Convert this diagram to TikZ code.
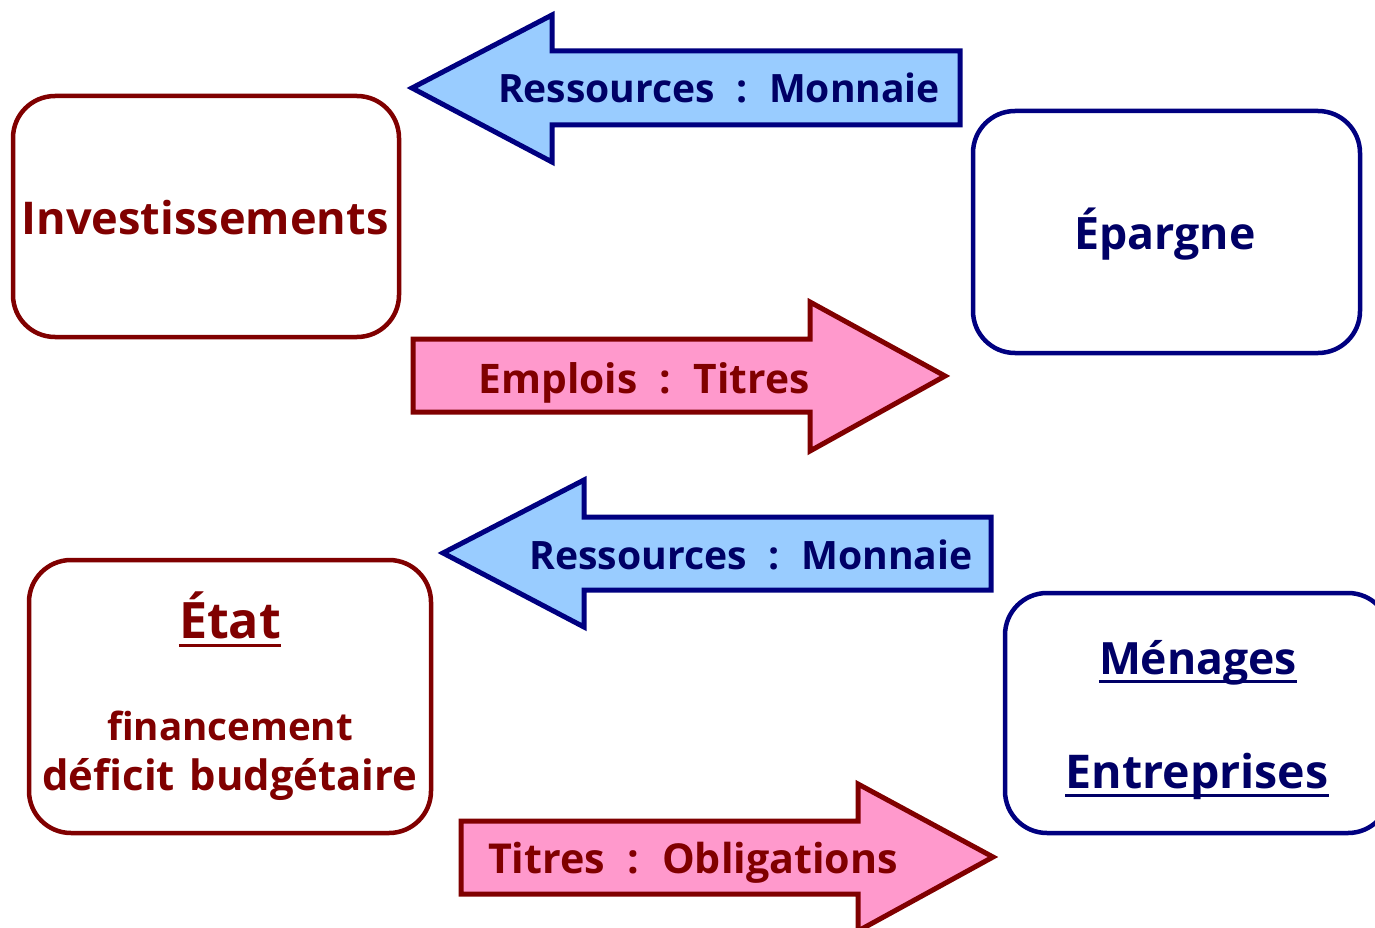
\documentclass[tikz,border=0pt]{standalone}
\usepackage{fontspec}
\setmainfont{Open Sans}
\usepackage{graphicx}
\definecolor{dred}{HTML}{800000}
\definecolor{dblue}{HTML}{000080}
\definecolor{tblue}{HTML}{000066}
\definecolor{lblue}{HTML}{99CCFF}
\definecolor{lpink}{HTML}{FF99CC}
\newcommand{\fw}[2]{\resizebox{#1pt}{!}{\bfseries #2}}
\newcommand{\sep}{\hspace{0.55em}:\hspace{0.55em}}
\begin{document}
\begin{tikzpicture}[x=1pt,y=-1pt,
  rbox/.style={draw=dred,line width=4.5pt,rounded corners=42pt,fill=white},
  bbox/.style={draw=dblue,line width=4.5pt,rounded corners=42pt,fill=white},
  barrow/.style={draw=dblue,fill=lblue,line width=5pt,line join=miter},
  parrow/.style={draw=dred,fill=lpink,line width=5pt,line join=miter},
  txt/.style={inner sep=0pt,anchor=base,font=\fontsize{40}{48}\selectfont},
  uline/.style={line width=3pt}]
\useasboundingbox (0,0) rectangle (1375,928);
% boxes
\node[rbox,minimum width=386pt,minimum height=241pt] (inv) at (206,216.5) {};
\node[bbox,minimum width=387pt,minimum height=242pt] (epa) at (1166.5,232) {};
\node[rbox,minimum width=402pt,minimum height=273pt] (eta) at (230,696.5) {};
\node[bbox,minimum width=385pt,minimum height=240pt] (men) at (1197.5,713) {};
% arrows
\draw[barrow] (412,88) -- (552,15) -- (552,51) -- (960,51) -- (960,125) -- (552,125) -- (552,162) -- cycle;
\draw[parrow] (945,376) -- (810,302) -- (810,339) -- (413,339) -- (413,412) -- (810,412) -- (810,451) -- cycle;
\draw[barrow] (443,553) -- (584,480) -- (584,517) -- (991,517) -- (991,590) -- (584,590) -- (584,627) -- cycle;
\draw[parrow] (993,857) -- (858,784) -- (858,821) -- (461,821) -- (461,894) -- (858,894) -- (858,931) -- cycle;
% texts
\node[txt,text=tblue] (r1) at (719,103) {\fw{442}{Ressources\sep Monnaie}};
\node[txt,text=dred] (e1) at (644,393) {\fw{331}{Emplois\sep Titres}};
\node[txt,text=tblue] (r2) at (751,569) {\fw{443}{Ressources\sep Monnaie}};
\node[txt,text=dred] (t2) at (693,873) {\fw{410}{Titres\sep Obligations}};
\node[txt,text=dred] (tinv) at (205,234) {\fw{367}{Investissements}};
\node[txt,text=tblue] (tepa) at (1165,249) {\fw{181}{Épargne}};
\node[txt,text=dred] (teta) at (230,638) {\fw{102}{État}};
\node[txt,text=dred] (tfin) at (230,740) {\fw{246}{financement}};
\node[txt,text=dred] (tdef) at (230,790) {\fw{375}{déficit\hspace{0.35em}budgétaire}};
\node[txt,text=tblue] (tmen) at (1198,674) {\fw{198}{Ménages}};
\node[txt,text=tblue] (tent) at (1197,788) {\fw{263}{Entreprises}};
% underlines
\draw[uline,dred] ([yshift=-7pt]teta.base west) -- ([yshift=-7pt]teta.base east);
\draw[uline,tblue] ([yshift=-7pt]tmen.base west) -- ([yshift=-7pt]tmen.base east);
\draw[uline,tblue] ([yshift=-7pt]tent.base west) -- ([yshift=-7pt]tent.base east);
\end{tikzpicture}
\end{document}
